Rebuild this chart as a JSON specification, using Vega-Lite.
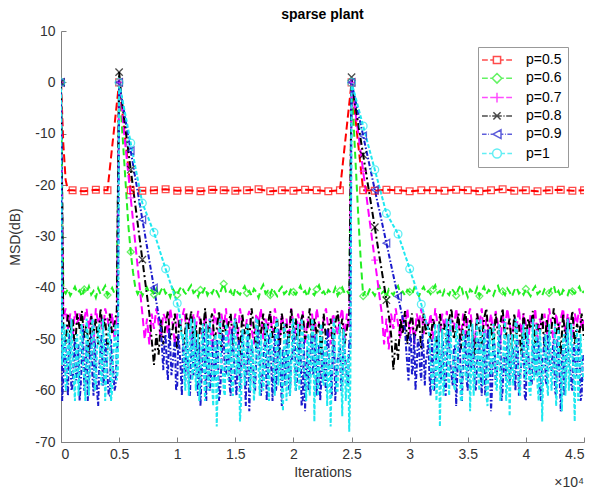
{
"$schema":"https://vega.github.io/schema/vega-lite/v6.json",
"autosize":"none",
"width":523,"height":411,
"padding":{"left":61,"top":31,"right":12,"bottom":50},
"background":"white",
"title":{"text":"sparse plant","fontSize":14,"font":"Liberation Sans","fontWeight":"bold","color":"#000","offset":2},
"config":{"view":{"stroke":null},"font":"Liberation Sans"},
"resolve":{"scale":{"color":"independent","shape":"independent"}},
"data":{"values":[
{"x":0,"a":0,"b":0,"c":0,"d":0,"e":0,"f":0},
{"x":0.02,"a":-12,"b":-40.4,"c":-46,"d":-48,"e":-58,"f":-51},
{"x":0.04,"a":-19,"b":-41.1,"c":-44,"d":-51,"e":-52,"f":-60},
{"x":0.06,"a":-21,"b":-40.2,"c":-48,"d":-45,"e":-61,"f":-48},
{"x":0.08,"b":-41.5,"c":-45,"d":-49,"e":-54,"f":-57},
{"x":0.1,"a":-21,"b":-40.7,"c":-50,"d":-46,"e":-59,"f":-53},
{"x":0.12,"b":-39.8,"c":-44.5,"d":-52,"e":-50,"f":-62},
{"x":0.14,"b":-41.0,"c":-47,"d":-45,"e":-57,"f":-49},
{"x":0.16,"b":-40.5,"c":-45,"d":-48,"e":-62,"f":-56},
{"x":0.18,"b":-41.7,"c":-49,"d":-44.5,"e":-53,"f":-47},
{"x":0.2,"a":-21.2,"b":-40.3,"c":-46,"d":-50,"e":-60,"f":-58},
{"x":0.22,"b":-40.9,"c":-44,"d":-47,"e":-51,"f":-46},
{"x":0.24,"b":-39.7,"c":-48,"d":-53,"e":-58,"f":-61},
{"x":0.26,"b":-41.3,"c":-45,"d":-45.5,"e":-49,"f":-54},
{"x":0.28,"b":-40.6,"c":-51,"d":-49,"e":-61,"f":-47},
{"x":0.3,"a":-20.9,"b":-41.9,"c":-44,"d":-46,"e":-55,"f":-59},
{"x":0.32,"b":-40.1,"c":-47,"d":-51,"e":-63,"f":-48},
{"x":0.34,"b":-41.2,"c":-45.5,"d":-44,"e":-52,"f":-57},
{"x":0.36,"b":-40.4,"c":-49,"d":-48,"e":-59,"f":-46},
{"x":0.38,"b":-39.6,"c":-44,"d":-46,"e":-50,"f":-62},
{"x":0.4,"a":-21,"b":-41.4,"c":-46,"d":-52,"e":-57,"f":-53},
{"x":0.42,"b":-40.8,"c":-48.5,"d":-45,"e":-61,"f":-47},
{"x":0.44,"b":-40.0,"c":-45,"d":-49,"e":-54,"f":-60},
{"x":0.46,"b":-41.1,"c":-50,"d":-47,"e":-60,"f":-50},
{"x":0.48,"b":-40.6,"c":-46,"d":-44.5,"e":-52,"f":-58},
{"x":0.5,"a":0,"b":0,"c":0,"d":2,"e":0,"f":0},
{"x":0.52,"b":-7,"c":-4.5,"d":-3,"e":-2.7,"f":-2.4},
{"x":0.54,"b":-14,"c":-9,"d":-6.5,"e":-5.3,"f":-4.7},
{"x":0.56,"b":-21,"c":-13.5,"d":-10,"e":-8,"f":-7},
{"x":0.58,"b":-28,"c":-18,"d":-13.5,"e":-10.7,"f":-9.4},
{"x":0.6,"a":-21,"b":-33,"c":-22.5,"d":-17,"e":-13.3,"f":-11.8},
{"x":0.62,"b":-37,"c":-27,"d":-20.5,"e":-16,"f":-14.1},
{"x":0.64,"b":-40,"c":-31.5,"d":-24,"e":-18.7,"f":-16.5},
{"x":0.66,"b":-41.2,"c":-36,"d":-27.5,"e":-21.3,"f":-18.8},
{"x":0.68,"b":-40.3,"c":-40.5,"d":-31,"e":-24,"f":-21.2},
{"x":0.7,"a":-21.1,"b":-41.5,"c":-45,"d":-34.5,"e":-26.7,"f":-23.5},
{"x":0.72,"b":-40.6,"c":-50,"d":-38,"e":-29.3,"f":-24.6},
{"x":0.74,"b":-39.9,"c":-46,"d":-41.5,"e":-32,"f":-25.8},
{"x":0.76,"b":-41.0,"c":-51,"d":-45,"e":-34.7,"f":-26.9},
{"x":0.78,"b":-40.4,"c":-45,"d":-50,"e":-37.3,"f":-28.1},
{"x":0.8,"a":-21,"b":-41.3,"c":-48,"d":-55,"e":-40,"f":-29.2},
{"x":0.82,"b":-40.2,"c":-44,"d":-49,"e":-42.7,"f":-30.6},
{"x":0.84,"b":-41.6,"c":-47,"d":-53,"e":-45.3,"f":-32},
{"x":0.86,"b":-40.5,"c":-50,"d":-46,"e":-48,"f":-33.5},
{"x":0.88,"b":-39.8,"c":-45,"d":-51,"e":-56,"f":-34.9},
{"x":0.9,"a":-20.8,"b":-41.1,"c":-46,"d":-47,"e":-49,"f":-36.3},
{"x":0.92,"b":-40.7,"c":-49,"d":-44.5,"e":-58,"f":-37.6},
{"x":0.94,"b":-41.8,"c":-44,"d":-50,"e":-51,"f":-39},
{"x":0.96,"b":-40.1,"c":-47,"d":-48,"e":-55,"f":-40.3},
{"x":0.98,"b":-40.9,"c":-51,"d":-45,"e":-50,"f":-41.7},
{"x":1.0,"a":-21.1,"b":-41.4,"c":-45,"d":-52,"e":-59,"f":-43},
{"x":1.02,"b":-40.3,"c":-48,"d":-46,"e":-52,"f":-45},
{"x":1.04,"b":-39.7,"c":-46,"d":-49,"e":-61,"f":-50},
{"x":1.06,"b":-40.8,"c":-44,"d":-51,"e":-54,"f":-57},
{"x":1.08,"b":-41.3,"c":-49,"d":-45,"e":-48,"f":-47},
{"x":1.1,"a":-21,"b":-40.2,"c":-46,"d":-48,"e":-59,"f":-61},
{"x":1.12,"b":-39.5,"c":-51,"d":-44.5,"e":-52,"f":-46},
{"x":1.14,"b":-41.0,"c":-45,"d":-50,"e":-57,"f":-55},
{"x":1.16,"b":-40.6,"c":-48,"d":-47,"e":-50,"f":-60},
{"x":1.18,"b":-41.7,"c":-44.5,"d":-53,"e":-61,"f":-49},
{"x":1.2,"a":-21.2,"b":-40.4,"c":-47,"d":-46,"e":-63,"f":-58},
{"x":1.22,"b":-40.9,"c":-50,"d":-49,"e":-51,"f":-47},
{"x":1.24,"b":-39.9,"c":-45,"d":-44,"e":-56,"f":-62},
{"x":1.26,"b":-41.4,"c":-48,"d":-51,"e":-49,"f":-53},
{"x":1.28,"b":-40.5,"c":-46,"d":-47,"e":-60,"f":-46},
{"x":1.3,"a":-20.9,"b":-41.1,"c":-52,"d":-45,"e":-53,"f":-59},
{"x":1.32,"b":-40.0,"c":-44,"d":-50,"e":-58,"f":-51},
{"x":1.34,"b":-40.7,"c":-47,"d":-48,"e":-50,"f":-67},
{"x":1.36,"b":-41.6,"c":-49,"d":-44.5,"e":-62,"f":-48},
{"x":1.38,"b":-40.3,"c":-45,"d":-52,"e":-55,"f":-56},
{"x":1.4,"a":-21,"b":-39.2,"c":-48,"d":-46,"e":-49,"f":-60},
{"x":1.42,"b":-40.8,"c":-44,"d":-49,"e":-57,"f":-47},
{"x":1.44,"b":-41.2,"c":-51,"d":-47,"e":-52,"f":-58},
{"x":1.46,"b":-40.5,"c":-46,"d":-45,"e":-61,"f":-49},
{"x":1.48,"b":-41.8,"c":-48,"d":-51,"e":-50,"f":-61},
{"x":1.5,"a":-21.1,"b":-40.1,"c":-45,"d":-46,"e":-58,"f":-46},
{"x":1.52,"b":-40.9,"c":-50,"d":-48,"e":-53,"f":-55},
{"x":1.54,"b":-41.3,"c":-44,"d":-53,"e":-60,"f":-66},
{"x":1.56,"b":-40.4,"c":-47,"d":-45,"e":-49,"f":-48},
{"x":1.58,"b":-39.7,"c":-49,"d":-49,"e":-56,"f":-59},
{"x":1.6,"a":-21,"b":-41.0,"c":-46,"d":-47,"e":-52,"f":-47},
{"x":1.62,"b":-40.6,"c":-44.5,"d":-50,"e":-64,"f":-57},
{"x":1.64,"b":-41.5,"c":-48,"d":-44,"e":-51,"f":-50},
{"x":1.66,"b":-40.2,"c":-51,"d":-48,"e":-59,"f":-62},
{"x":1.68,"b":-40.8,"c":-45,"d":-52,"e":-54,"f":-46},
{"x":1.7,"a":-20.8,"b":-41.9,"c":-47,"d":-46,"e":-48,"f":-56},
{"x":1.72,"b":-40.3,"c":-44,"d":-49,"e":-61,"f":-49},
{"x":1.74,"b":-39.4,"c":-50,"d":-45,"e":-55,"f":-60},
{"x":1.76,"b":-41.1,"c":-46,"d":-51,"e":-50,"f":-47},
{"x":1.78,"b":-40.6,"c":-48,"d":-47,"e":-58,"f":-58},
{"x":1.8,"a":-21.2,"b":-41.4,"c":-45,"d":-44.5,"e":-52,"f":-48},
{"x":1.82,"b":-40.0,"c":-49,"d":-50,"e":-62,"f":-54},
{"x":1.84,"b":-40.9,"c":-44,"d":-48,"e":-49,"f":-61},
{"x":1.86,"b":-41.6,"c":-47,"d":-46,"e":-57,"f":-46},
{"x":1.88,"b":-40.4,"c":-51,"d":-53,"e":-51,"f":-55},
{"x":1.9,"a":-21,"b":-39.8,"c":-45,"d":-45,"e":-63,"f":-59},
{"x":1.92,"b":-41.2,"c":-48,"d":-49,"e":-54,"f":-47},
{"x":1.94,"b":-40.7,"c":-46,"d":-47,"e":-50,"f":-62},
{"x":1.96,"b":-41.5,"c":-50,"d":-51,"e":-59,"f":-49},
{"x":1.98,"b":-40.1,"c":-44,"d":-44,"e":-53,"f":-57},
{"x":2.0,"a":-21.1,"b":-40.8,"c":-47,"d":-48,"e":-48,"f":-46},
{"x":2.02,"b":-41.3,"c":-49,"d":-46,"e":-60,"f":-60},
{"x":2.04,"b":-40.5,"c":-45,"d":-52,"e":-55,"f":-47},
{"x":2.06,"b":-39.6,"c":-48,"d":-47,"e":-50,"f":-55},
{"x":2.08,"b":-41.0,"c":-44.5,"d":-45,"e":-62,"f":-48},
{"x":2.1,"a":-20.9,"b":-40.6,"c":-51,"d":-50,"e":-64,"f":-58},
{"x":2.12,"b":-41.7,"c":-46,"d":-48,"e":-52,"f":-50},
{"x":2.14,"b":-40.2,"c":-48,"d":-44,"e":-57,"f":-61},
{"x":2.16,"b":-40.9,"c":-45,"d":-51,"e":-49,"f":-46},
{"x":2.18,"b":-41.4,"c":-50,"d":-46,"e":-55,"f":-66},
{"x":2.2,"a":-21,"b":-40.3,"c":-44,"d":-49,"e":-61,"f":-49},
{"x":2.22,"b":-39.5,"c":-47,"d":-47,"e":-51,"f":-57},
{"x":2.24,"b":-41.1,"c":-49,"d":-53,"e":-58,"f":-47},
{"x":2.26,"b":-40.7,"c":-46,"d":-45,"e":-53,"f":-59},
{"x":2.28,"b":-41.6,"c":-44,"d":-50,"e":-60,"f":-51},
{"x":2.3,"a":-21.2,"b":-40.4,"c":-48,"d":-48,"e":-50,"f":-56},
{"x":2.32,"b":-40.9,"c":-51,"d":-46,"e":-56,"f":-67},
{"x":2.34,"b":-41.2,"c":-45,"d":-52,"e":-49,"f":-48},
{"x":2.36,"b":-40.0,"c":-47,"d":-47,"e":-62,"f":-54},
{"x":2.38,"b":-41.5,"c":-49,"d":-44.5,"e":-54,"f":-60},
{"x":2.4,"a":-21,"b":-40.6,"c":-46,"d":-49,"e":-51,"f":-47},
{"x":2.42,"b":-39.9,"c":-44,"d":-46,"e":-59,"f":-65},
{"x":2.44,"b":-41.0,"c":-50,"d":-51,"e":-52,"f":-50},
{"x":2.46,"b":-40.5,"c":-45,"d":-48,"e":-57,"f":-58},
{"x":2.48,"b":-41.3,"c":-48,"d":-45,"e":-50,"f":-68},
{"x":2.5,"a":0,"b":0,"c":0,"d":1,"e":0,"f":0},
{"x":2.52,"b":-9,"c":-3.5,"d":-2.8,"e":-2.1,"f":-1.7},
{"x":2.54,"b":-18,"c":-6.9,"d":-5.6,"e":-4.2,"f":-3.4},
{"x":2.56,"b":-27,"c":-10.4,"d":-8.5,"e":-6.3,"f":-5.1},
{"x":2.58,"b":-35,"c":-13.8,"d":-11.3,"e":-8.3,"f":-6.8},
{"x":2.6,"a":-21,"b":-41.6,"c":-17.3,"d":-14.1,"e":-10.4,"f":-8.5},
{"x":2.62,"b":-40.5,"c":-20.8,"d":-16.9,"e":-12.5,"f":-10.2},
{"x":2.64,"b":-41.2,"c":-24.2,"d":-19.8,"e":-14.6,"f":-11.9},
{"x":2.66,"b":-40.1,"c":-27.7,"d":-22.6,"e":-16.7,"f":-13.6},
{"x":2.68,"b":-40.8,"c":-31.1,"d":-25.4,"e":-18.8,"f":-15.3},
{"x":2.7,"a":-21.1,"b":-41.5,"c":-34.6,"d":-28.2,"e":-20.9,"f":-17},
{"x":2.72,"b":-40.4,"c":-38,"d":-31.1,"e":-23,"f":-18.7},
{"x":2.74,"b":-39.7,"c":-41.5,"d":-33.9,"e":-25,"f":-20.4},
{"x":2.76,"b":-41.0,"c":-45,"d":-36.7,"e":-27.1,"f":-22.1},
{"x":2.78,"b":-40.6,"c":-51,"d":-39.5,"e":-29.2,"f":-23.8},
{"x":2.8,"a":-20.9,"b":-41.8,"c":-46,"d":-42.4,"e":-31.3,"f":-25.5},
{"x":2.82,"b":-40.3,"c":-52,"d":-45.2,"e":-33.4,"f":-26.3},
{"x":2.84,"b":-40.9,"c":-45,"d":-49,"e":-35.5,"f":-27.1},
{"x":2.86,"b":-41.4,"c":-48,"d":-56,"e":-37.6,"f":-27.9},
{"x":2.88,"b":-40.2,"c":-44,"d":-50,"e":-39.7,"f":-28.7},
{"x":2.9,"a":-21,"b":-39.6,"c":-47,"d":-54,"e":-41.7,"f":-29.5},
{"x":2.92,"b":-41.1,"c":-50,"d":-46,"e":-43.8,"f":-30.9},
{"x":2.94,"b":-40.7,"c":-45,"d":-49,"e":-45.9,"f":-32.2},
{"x":2.96,"b":-41.5,"c":-48,"d":-44.5,"e":-48,"f":-33.6},
{"x":2.98,"b":-40.4,"c":-44,"d":-51,"e":-55,"f":-34.9},
{"x":3.0,"a":-21.2,"b":-40.8,"c":-49,"d":-47,"e":-50,"f":-36.3},
{"x":3.02,"b":-41.3,"c":-46,"d":-45,"e":-57,"f":-37.7},
{"x":3.04,"b":-40.0,"c":-51,"d":-50,"e":-49,"f":-39},
{"x":3.06,"b":-40.9,"c":-45,"d":-48,"e":-56,"f":-40.4},
{"x":3.08,"b":-41.6,"c":-47,"d":-46,"e":-51,"f":-41.8},
{"x":3.1,"a":-21,"b":-40.5,"c":-44,"d":-52,"e":-58,"f":-43.2},
{"x":3.12,"b":-39.8,"c":-49,"d":-45,"e":-52,"f":-44.8},
{"x":3.14,"b":-41.0,"c":-46,"d":-49,"e":-54,"f":-46.5},
{"x":3.16,"b":-40.6,"c":-48,"d":-47,"e":-50,"f":-48},
{"x":3.18,"b":-41.2,"c":-45,"d":-50,"e":-61,"f":-55},
{"x":3.2,"a":-21,"b":-40.3,"c":-50,"d":-46,"e":-53,"f":-60},
{"x":3.22,"b":-39.5,"c":-44,"d":-48,"e":-58,"f":-47},
{"x":3.24,"b":-41.0,"c":-47,"d":-53,"e":-50,"f":-57},
{"x":3.26,"b":-40.6,"c":-49,"d":-45,"e":-56,"f":-67},
{"x":3.28,"b":-41.7,"c":-45,"d":-49,"e":-49,"f":-48},
{"x":3.3,"a":-21.1,"b":-40.4,"c":-48,"d":-47,"e":-60,"f":-58},
{"x":3.32,"b":-40.9,"c":-44.5,"d":-51,"e":-54,"f":-46},
{"x":3.34,"b":-41.4,"c":-51,"d":-46,"e":-50,"f":-61},
{"x":3.36,"b":-40.1,"c":-46,"d":-44,"e":-57,"f":-53},
{"x":3.38,"b":-40.7,"c":-48,"d":-50,"e":-52,"f":-59},
{"x":3.4,"a":-20.9,"b":-41.5,"c":-44,"d":-48,"e":-63,"f":-47},
{"x":3.42,"b":-40.2,"c":-47,"d":-45,"e":-51,"f":-56},
{"x":3.44,"b":-39.4,"c":-50,"d":-52,"e":-58,"f":-62},
{"x":3.46,"b":-41.1,"c":-45,"d":-47,"e":-54,"f":-48},
{"x":3.48,"b":-40.5,"c":-49,"d":-44.5,"e":-49,"f":-57},
{"x":3.5,"a":-21,"b":-41.8,"c":-46,"d":-50,"e":-60,"f":-50},
{"x":3.52,"b":-40.3,"c":-44,"d":-46,"e":-53,"f":-64},
{"x":3.54,"b":-40.8,"c":-48,"d":-49,"e":-50,"f":-47},
{"x":3.56,"b":-41.3,"c":-51,"d":-53,"e":-59,"f":-58},
{"x":3.58,"b":-40.0,"c":-45,"d":-45,"e":-55,"f":-46},
{"x":3.6,"a":-21.2,"b":-41.6,"c":-47,"d":-48,"e":-51,"f":-60},
{"x":3.62,"b":-40.6,"c":-44,"d":-51,"e":-61,"f":-54},
{"x":3.64,"b":-39.8,"c":-50,"d":-46,"e":-49,"f":-48},
{"x":3.66,"b":-41.2,"c":-46,"d":-44,"e":-57,"f":-61},
{"x":3.68,"b":-40.4,"c":-48,"d":-50,"e":-52,"f":-53},
{"x":3.7,"a":-21,"b":-40.9,"c":-45,"d":-47,"e":-64,"f":-57},
{"x":3.72,"b":-41.5,"c":-49,"d":-52,"e":-50,"f":-47},
{"x":3.74,"b":-40.2,"c":-44.5,"d":-45,"e":-58,"f":-59},
{"x":3.76,"b":-39.6,"c":-47,"d":-49,"e":-53,"f":-50},
{"x":3.78,"b":-41.0,"c":-51,"d":-47,"e":-49,"f":-62},
{"x":3.8,"a":-20.8,"b":-40.7,"c":-45,"d":-44,"e":-60,"f":-55},
{"x":3.82,"b":-41.4,"c":-48,"d":-50,"e":-54,"f":-46},
{"x":3.84,"b":-40.1,"c":-44,"d":-48,"e":-51,"f":-58},
{"x":3.86,"b":-40.8,"c":-47,"d":-46,"e":-59,"f":-65},
{"x":3.88,"b":-41.7,"c":-50,"d":-52,"e":-52,"f":-49},
{"x":3.9,"a":-21.1,"b":-40.5,"c":-46,"d":-45,"e":-56,"f":-57},
{"x":3.92,"b":-39.9,"c":-48,"d":-49,"e":-50,"f":-47},
{"x":3.94,"b":-41.1,"c":-44,"d":-47,"e":-61,"f":-60},
{"x":3.96,"b":-40.6,"c":-49,"d":-53,"e":-55,"f":-53},
{"x":3.98,"b":-41.3,"c":-45,"d":-45,"e":-49,"f":-47},
{"x":4.0,"a":-21,"b":-40.2,"c":-47,"d":-50,"e":-62,"f":-58},
{"x":4.02,"b":-40.9,"c":-51,"d":-46,"e":-53,"f":-50},
{"x":4.04,"b":-41.6,"c":-45,"d":-48,"e":-58,"f":-61},
{"x":4.06,"b":-40.4,"c":-48,"d":-44.5,"e":-51,"f":-46},
{"x":4.08,"b":-39.7,"c":-44,"d":-51,"e":-57,"f":-56},
{"x":4.1,"a":-21.2,"b":-41.2,"c":-50,"d":-47,"e":-50,"f":-59},
{"x":4.12,"b":-40.7,"c":-46,"d":-49,"e":-60,"f":-48},
{"x":4.14,"b":-41.5,"c":-48,"d":-45,"e":-54,"f":-66},
{"x":4.16,"b":-40.3,"c":-45,"d":-52,"e":-49,"f":-53},
{"x":4.18,"b":-40.8,"c":-49,"d":-46,"e":-59,"f":-58},
{"x":4.2,"a":-21,"b":-41.0,"c":-44,"d":-50,"e":-52,"f":-47},
{"x":4.22,"b":-40.1,"c":-47,"d":-48,"e":-56,"f":-60},
{"x":4.24,"b":-39.5,"c":-51,"d":-44,"e":-50,"f":-54},
{"x":4.26,"b":-41.3,"c":-45,"d":-49,"e":-61,"f":-63},
{"x":4.28,"b":-40.6,"c":-48,"d":-47,"e":-53,"f":-48},
{"x":4.3,"a":-20.9,"b":-41.8,"c":-46,"d":-53,"e":-64,"f":-57},
{"x":4.32,"b":-40.4,"c":-44,"d":-45,"e":-51,"f":-50},
{"x":4.34,"b":-40.9,"c":-49,"d":-50,"e":-58,"f":-61},
{"x":4.36,"b":-41.4,"c":-45,"d":-46,"e":-49,"f":-46},
{"x":4.38,"b":-40.0,"c":-48,"d":-48,"e":-55,"f":-56},
{"x":4.4,"a":-21.1,"b":-40.7,"c":-50,"d":-44.5,"e":-60,"f":-53},
{"x":4.42,"b":-41.1,"c":-45,"d":-51,"e":-52,"f":-66},
{"x":4.44,"b":-40.5,"c":-47,"d":-47,"e":-57,"f":-48},
{"x":4.46,"b":-39.8,"c":-44,"d":-49,"e":-50,"f":-59},
{"x":4.48,"b":-41.2,"c":-48,"d":-45,"e":-61,"f":-54},
{"x":4.5,"a":-21,"b":-40.6,"c":-46,"d":-50,"e":-54,"f":-58},
{"x":0.01,"e":-62,"f":-55},{"x":0.03,"e":-50,"f":-47},{"x":0.05,"e":-57,"f":-59},{"x":0.07,"e":-49,"f":-52},{"x":0.09,"e":-60,"f":-46},
{"x":0.11,"e":-53,"f":-58},{"x":0.13,"e":-58,"f":-50},{"x":0.15,"e":-51,"f":-61},{"x":0.17,"e":-59,"f":-48},{"x":0.19,"e":-48,"f":-55},
{"x":0.21,"e":-56,"f":-62},{"x":0.23,"e":-62,"f":-49},{"x":0.25,"e":-52,"f":-56},{"x":0.27,"e":-57,"f":-46},{"x":0.29,"e":-50,"f":-60},
{"x":0.31,"e":-60,"f":-52},{"x":0.33,"e":-55,"f":-47},{"x":0.35,"e":-49,"f":-59},{"x":0.37,"e":-58,"f":-51},{"x":0.39,"e":-53,"f":-57},
{"x":0.41,"e":-61,"f":-48},{"x":0.43,"e":-50,"f":-62},{"x":0.45,"e":-56,"f":-53},{"x":0.47,"e":-59,"f":-47},{"x":0.49,"e":-51,"f":-56},
{"x":0.89,"e":-51},{"x":0.91,"e":-55},{"x":0.93,"e":-48},{"x":0.95,"e":-57},{"x":0.97,"e":-52},{"x":0.99,"e":-60},{"x":1.01,"e":-49},{"x":1.03,"e":-56},
{"x":1.05,"e":-50,"f":-49},{"x":1.07,"e":-58,"f":-60},{"x":1.09,"e":-52,"f":-53},{"x":1.11,"e":-61,"f":-48},{"x":1.13,"e":-49,"f":-58},
{"x":1.15,"e":-55,"f":-46},{"x":1.17,"e":-59,"f":-56},{"x":1.19,"e":-51,"f":-62},{"x":1.21,"e":-57,"f":-50},{"x":1.23,"e":-48,"f":-57},
{"x":1.25,"e":-62,"f":-47},{"x":1.27,"e":-53,"f":-60},{"x":1.29,"e":-58,"f":-52},{"x":1.31,"e":-50,"f":-63},{"x":1.33,"e":-56,"f":-49},
{"x":1.35,"e":-52,"f":-58},{"x":1.37,"e":-60,"f":-46},{"x":1.39,"e":-49,"f":-55},{"x":1.41,"e":-57,"f":-61},{"x":1.43,"e":-53,"f":-48},
{"x":1.45,"e":-59,"f":-54},{"x":1.47,"e":-48,"f":-59},{"x":1.49,"e":-55,"f":-47},{"x":1.51,"e":-61,"f":-57},{"x":1.53,"e":-50,"f":-51},
{"x":1.55,"e":-56,"f":-62},{"x":1.57,"e":-52,"f":-49},{"x":1.59,"e":-63,"f":-56},{"x":1.61,"e":-49,"f":-47},{"x":1.63,"e":-57,"f":-60},
{"x":1.65,"e":-53,"f":-52},{"x":1.67,"e":-60,"f":-58},{"x":1.69,"e":-50,"f":-46},{"x":1.71,"e":-55,"f":-61},{"x":1.73,"e":-58,"f":-53},
{"x":1.75,"e":-51,"f":-57},{"x":1.77,"e":-62,"f":-48},{"x":1.79,"e":-49,"f":-62},{"x":1.81,"e":-56,"f":-50},{"x":1.83,"e":-53,"f":-56},
{"x":1.85,"e":-60,"f":-47},{"x":1.87,"e":-48,"f":-59},{"x":1.89,"e":-57,"f":-52},{"x":1.91,"e":-52,"f":-64},{"x":1.93,"e":-59,"f":-49},
{"x":1.95,"e":-50,"f":-55},{"x":1.97,"e":-61,"f":-61},{"x":1.99,"e":-54,"f":-47},{"x":2.01,"e":-49,"f":-58},{"x":2.03,"e":-58,"f":-52},
{"x":2.05,"e":-52,"f":-60},{"x":2.07,"e":-63,"f":-46},{"x":2.09,"e":-50,"f":-56},{"x":2.11,"e":-56,"f":-62},{"x":2.13,"e":-60,"f":-49},
{"x":2.15,"e":-51,"f":-57},{"x":2.17,"e":-57,"f":-47},{"x":2.19,"e":-49,"f":-53},{"x":2.21,"e":-55,"f":-61},{"x":2.23,"e":-62,"f":-48},
{"x":2.25,"e":-52,"f":-58},{"x":2.27,"e":-58,"f":-50},{"x":2.29,"e":-48,"f":-63},{"x":2.31,"e":-56,"f":-52},{"x":2.33,"e":-61,"f":-57},
{"x":2.35,"e":-50,"f":-46},{"x":2.37,"e":-57,"f":-60},{"x":2.39,"e":-53,"f":-51},{"x":2.41,"e":-60,"f":-56},{"x":2.43,"e":-49,"f":-48},
{"x":2.45,"e":-55,"f":-62},{"x":2.47,"e":-59,"f":-53},{"x":2.49,"e":-52,"f":-58},
{"x":2.97,"e":-52},{"x":2.99,"e":-58},{"x":3.01,"e":-49},{"x":3.03,"e":-55},{"x":3.05,"e":-60},{"x":3.07,"e":-50},{"x":3.09,"e":-56},{"x":3.11,"e":-49},{"x":3.13,"e":-59},{"x":3.15,"e":-53},
{"x":3.17,"e":-57,"f":-50},{"x":3.19,"e":-50,"f":-58},{"x":3.21,"e":-60,"f":-52},{"x":3.23,"e":-53,"f":-62},{"x":3.25,"e":-49,"f":-47},
{"x":3.27,"e":-58,"f":-56},{"x":3.29,"e":-52,"f":-61},{"x":3.31,"e":-61,"f":-49},{"x":3.33,"e":-48,"f":-57},{"x":3.35,"e":-55,"f":-46},
{"x":3.37,"e":-59,"f":-53},{"x":3.39,"e":-51,"f":-60},{"x":3.41,"e":-57,"f":-48},{"x":3.43,"e":-50,"f":-55},{"x":3.45,"e":-62,"f":-62},
{"x":3.47,"e":-53,"f":-50},{"x":3.49,"e":-58,"f":-58},{"x":3.51,"e":-49,"f":-47},{"x":3.53,"e":-56,"f":-54},{"x":3.55,"e":-52,"f":-61},
{"x":3.57,"e":-60,"f":-52},{"x":3.59,"e":-50,"f":-57},{"x":3.61,"e":-57,"f":-46},{"x":3.63,"e":-54,"f":-59},{"x":3.65,"e":-61,"f":-50},
{"x":3.67,"e":-48,"f":-63},{"x":3.69,"e":-55,"f":-48},{"x":3.71,"e":-59,"f":-56},{"x":3.73,"e":-51,"f":-52},{"x":3.75,"e":-57,"f":-60},
{"x":3.77,"e":-50,"f":-47},{"x":3.79,"e":-62,"f":-57},{"x":3.81,"e":-53,"f":-51},{"x":3.83,"e":-58,"f":-62},{"x":3.85,"e":-49,"f":-49},
{"x":3.87,"e":-56,"f":-55},{"x":3.89,"e":-52,"f":-59},{"x":3.91,"e":-60,"f":-46},{"x":3.93,"e":-50,"f":-54},{"x":3.95,"e":-57,"f":-61},
{"x":3.97,"e":-54,"f":-50},{"x":3.99,"e":-61,"f":-57},{"x":4.01,"e":-48,"f":-48},{"x":4.03,"e":-55,"f":-60},{"x":4.05,"e":-59,"f":-53},
{"x":4.07,"e":-51,"f":-58},{"x":4.09,"e":-57,"f":-47},{"x":4.11,"e":-50,"f":-62},{"x":4.13,"e":-62,"f":-52},{"x":4.15,"e":-53,"f":-56},
{"x":4.17,"e":-58,"f":-49},{"x":4.19,"e":-49,"f":-61},{"x":4.21,"e":-56,"f":-51},{"x":4.23,"e":-52,"f":-57},{"x":4.25,"e":-60,"f":-47},
{"x":4.27,"e":-50,"f":-59},{"x":4.29,"e":-57,"f":-53},{"x":4.31,"e":-54,"f":-64},{"x":4.33,"e":-61,"f":-49},{"x":4.35,"e":-48,"f":-55},
{"x":4.37,"e":-55,"f":-60},{"x":4.39,"e":-59,"f":-47},{"x":4.41,"e":-51,"f":-56},{"x":4.43,"e":-57,"f":-51},{"x":4.45,"e":-50,"f":-62},
{"x":4.47,"e":-62,"f":-49},{"x":4.49,"e":-53,"f":-57}
]},
"layer":[
{"transform":[{"fold":["a","b","c","d","e","f"],"as":["k","y"]},{"filter":"isValid(datum.y)"}],
"mark":{"type":"line","clip":true},
"encoding":{
"x":{"field":"x","type":"quantitative","scale":{"domain":[0,4.5],"nice":false,"zero":false},
"axis":{"title":"Iterations","values":[0,0.5,1,1.5,2,2.5,3,3.5,4,4.5],"labelExpr":"datum.value + ''","grid":false,"domainColor":"#808080","tickColor":"#808080","tickSize":-5,"labelPadding":10,"labelFontSize":14,"labelColor":"#333333","labelFont":"Liberation Sans","titleFont":"Liberation Sans","titleFontSize":14,"titleFontWeight":"normal","titleColor":"#333333","titlePadding":4}},
"y":{"field":"y","type":"quantitative","scale":{"domain":[-70,10],"nice":false,"zero":false},
"axis":{"title":"MSD(dB)","values":[-70,-60,-50,-40,-30,-20,-10,0,10],"labelExpr":"datum.value + ''","grid":false,"domainColor":"#808080","tickColor":"#808080","tickSize":-5,"labelPadding":11,"labelFontSize":14,"labelColor":"#333333","labelFont":"Liberation Sans","titleFont":"Liberation Sans","titleFontSize":14,"titleFontWeight":"normal","titleColor":"#333333","titlePadding":12}},
"color":{"field":"k","type":"nominal","scale":{"domain":["a","b","c","d","e","f"],"range":["#ff0000","#22ee22","#ff00ff","#000000","#1a1acc","#20e8f0"]},"legend":null},
"strokeDash":{"field":"k","type":"nominal","scale":{"domain":["a","b","c","d","e","f"],"range":[[8,4],[7,4],[8,4],[7,3,2,3],[5,2,1.5,2],[4,2]]},"legend":null},
"strokeWidth":{"field":"k","type":"nominal","scale":{"domain":["a","b","c","d","e","f"],"range":[2,2,1.5,1.5,1.5,1.5]},"legend":null}
}},
{"transform":[{"fold":["a","b","c","d","e","f"],"as":["k","y"]},{"filter":"isValid(datum.y)"},
{"filter":"abs(datum.x*10-round(datum.x*10))<0.001 && (datum.k=='a' || (datum.k=='b' ? round(datum.x*10)%2==0 : datum.y>-43.5))"}],
"mark":{"type":"point","filled":false,"strokeWidth":1.3,"clip":true},
"encoding":{
"x":{"field":"x","type":"quantitative"},
"y":{"field":"y","type":"quantitative"},
"color":{"field":"k","type":"nominal","scale":{"domain":["a","b","c","d","e","f"],"range":["#ff0000","#22ee22","#ff00ff","#000000","#1a1acc","#20e8f0"]},"legend":null},
"shape":{"field":"k","type":"nominal","scale":{"domain":["a","b","c","d","e","f"],"range":["square","diamond","M-1,0H1M0,-1V1","M-1,-1L1,1M-1,1L1,-1","triangle-left","circle"]},"legend":null},
"size":{"field":"k","type":"nominal","scale":{"domain":["a","b","c","d","e","f"],"range":[45,60,50,45,50,64]},"legend":null}
}},
{"data":{"values":[]},
"mark":{"type":"point","filled":false,"strokeWidth":1.5,"size":64},
"encoding":{
"color":{"field":"k","type":"nominal","scale":{"domain":["a","b","c","d","e","f"],"range":["#ff0000","#22ee22","#ff00ff","#000000","#1a1acc","#20e8f0"]},
"legend":{"title":null,"orient":"top-right","offset":16,"padding":6,"strokeColor":"#999999","fillColor":"white","labelFontSize":14,"labelFont":"Liberation Sans","labelColor":"#000000","symbolSize":64,"symbolOffset":6,"labelOffset":22,"rowPadding":3.3,"symbolStrokeWidth":1.5,
"labelExpr":"datum.value=='a'?'p=0.5':datum.value=='b'?'p=0.6':datum.value=='c'?'p=0.7':datum.value=='d'?'p=0.8':datum.value=='e'?'p=0.9':'p=1'"}},
"shape":{"field":"k","type":"nominal","scale":{"domain":["a","b","c","d","e","f"],"range":[
"M-3.75,0H-2.3M-1.7,0H-0.9M0.9,0H1.7M2.3,0H3.75M-0.9,-0.9H0.9V0.9H-0.9Z",
"M-3.75,0H-2.3M-1.7,0H-1.2M1.2,0H1.7M2.3,0H3.75M0,-1.2L1.2,0L0,1.2L-1.2,0Z",
"M-3.75,0H-2.3M-1.7,0H1.7M2.3,0H3.75M0,-1.2V1.2",
"M-3.75,0H-2.3M-1.9,0H-1.6M-1.2,0H1.2M1.6,0H1.9M2.3,0H3.75M-0.9,-0.9L0.9,0.9M-0.9,0.9L0.9,-0.9",
"M-3.75,0H-2.6M-2.2,0H-2M-1.6,0H-1M1,0H1.6M2,0H2.2M2.6,0H3.75M-1,0L1,-1.1V1.1Z",
"M-3.75,0H-2.6M-2,0H-1.1M1.1,0H2M2.6,0H3.75M-1.1,0A1.1,1.1,0,1,1,1.1,0A1.1,1.1,0,1,1,-1.1,0Z"]},
"legend":{"title":null}}
}},
{"data":{"values":[{"t":"×10⁴"}]},
"mark":{"type":"text","align":"right","baseline":"middle","dy":41,"fontSize":14,"font":"Liberation Sans","color":"#333333"},
"encoding":{"x":{"datum":4.5},"y":{"datum":-70},"text":{"field":"t"}}}
]
}
